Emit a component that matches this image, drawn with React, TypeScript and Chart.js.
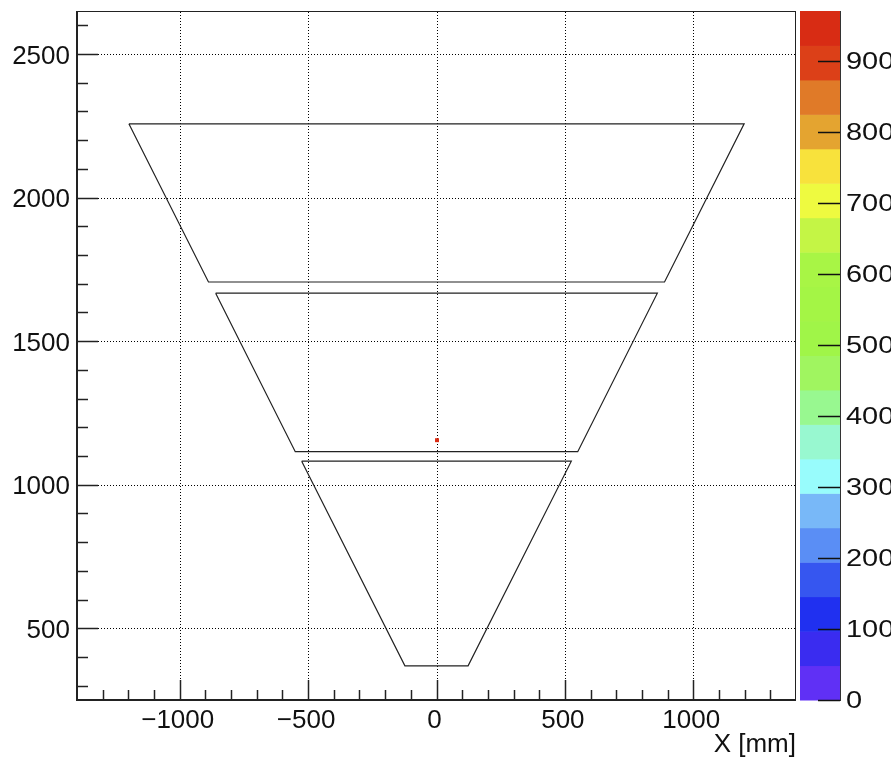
import { useEffect, useRef } from 'react';
import { Chart, registerables } from 'chart.js';

Chart.register(...registerables);

// Axis ranges and tick labels
const xMin = -1400;
const xMax = 1400;
const yMin = 250;
const yMax = 2650;
const xMajorTicks = [-1000, -500, 0, 500, 1000];
const yMajorTicks = [500, 1000, 1500, 2000, 2500];
const xMinorTicks = [-1300, -1200, -1100, -900, -800, -700, -600, -400, -300, -200, -100, 100, 200, 300, 400, 600, 700, 800, 900, 1100, 1200, 1300];
const yMinorTicks = [300, 400, 600, 700, 800, 900, 1100, 1200, 1300, 1400, 1600, 1700, 1800, 1900, 2100, 2200, 2300, 2400, 2600];
const xTitle = 'X [mm]';

// Trapezoid outlines (mm)
const trapTopY = [2257, 1667, 1082];
const trapBottomY = [1706, 1115, 369];
const trapTopHalfWidth = [1198, 860, 525];
const trapBottomHalfWidth = [888, 550, 123];

// Filled histogram cells
const cellX = [2];
const cellY = [1155];
const cellZ = [970];

// Colour palette (20 contours, bottom to top)
const zMax = 970;
const zTicks = [0, 100, 200, 300, 400, 500, 600, 700, 800, 900];
const paletteColors = [
  '#6030f5', '#3a2cf0', '#2030f0', '#3656f0', '#5a8ef5',
  '#78b8f8', '#98fcfc', '#98f8d0', '#98f890', '#a0f560',
  '#a0f548', '#a4f545', '#a8f545', '#c4f545', '#eefa40',
  '#f8e23c', '#e4a430', '#e07a28', '#dc4018', '#d82c14',
];

const FONT = '"Liberation Sans", Arial, Helvetica, sans-serif';

function colorFor(z: number) {
  const n = paletteColors.length;
  const idx = Math.max(0, Math.min(n - 1, Math.floor((z / zMax) * n)));
  return paletteColors[idx];
}

function fmt(v: number) {
  return v < 0 ? '\u2212' + Math.abs(v) : String(v);
}

const rootPlugin = {
  id: 'rootPlugin',
  beforeDatasetsDraw(chart: any) {
    const { ctx, chartArea: a, scales } = chart;
    const x = scales.x;
    const y = scales.y;
    ctx.save();
    ctx.strokeStyle = '#000';
    ctx.lineWidth = 1;
    ctx.setLineDash([1, 2]);
    xMajorTicks.forEach((v) => {
      const px = Math.round(x.getPixelForValue(v)) + 0.5;
      ctx.beginPath();
      ctx.moveTo(px, a.bottom);
      ctx.lineTo(px, a.top);
      ctx.stroke();
    });
    yMajorTicks.forEach((v) => {
      const py = Math.round(y.getPixelForValue(v)) + 0.5;
      ctx.beginPath();
      ctx.moveTo(a.left, py);
      ctx.lineTo(a.right, py);
      ctx.stroke();
    });
    ctx.restore();
  },
  afterDatasetsDraw(chart: any) {
    const { ctx, chartArea: a, scales } = chart;
    const x = scales.x;
    const y = scales.y;
    const z = scales.z;
    ctx.save();
    ctx.setLineDash([]);

    // frame
    ctx.strokeStyle = '#222';
    ctx.lineWidth = 1;
    ctx.strokeRect(a.left + 0.5, a.top + 0.5, a.right - a.left - 1, a.bottom - a.top);
    ctx.lineWidth = 2;
    ctx.beginPath();
    ctx.moveTo(a.left, a.top);
    ctx.lineTo(a.left, a.bottom);
    ctx.lineTo(a.right, a.bottom);
    ctx.stroke();

    // ticks
    ctx.lineWidth = 1.5;
    ctx.strokeStyle = '#222';
    const drawXT = (v: number, len: number) => {
      const px = Math.round(x.getPixelForValue(v)) + 0.5;
      ctx.beginPath();
      ctx.moveTo(px, a.bottom);
      ctx.lineTo(px, a.bottom - len);
      ctx.stroke();
    };
    const drawYT = (v: number, len: number) => {
      const py = Math.round(y.getPixelForValue(v)) + 0.5;
      ctx.beginPath();
      ctx.moveTo(a.left, py);
      ctx.lineTo(a.left + len, py);
      ctx.stroke();
    };
    xMajorTicks.forEach((v) => drawXT(v, 20));
    xMinorTicks.forEach((v) => drawXT(v, 10));
    yMajorTicks.forEach((v) => drawYT(v, 21));
    yMinorTicks.forEach((v) => drawYT(v, 11));

    // labels
    ctx.fillStyle = '#111';
    ctx.font = '26px ' + FONT;
    ctx.textBaseline = 'alphabetic';
    ctx.textAlign = 'center';
    xMajorTicks.forEach((v) => {
      ctx.fillText(fmt(v), x.getPixelForValue(v) - 2, 728);
    });
    ctx.textAlign = 'right';
    yMajorTicks.forEach((v) => {
      ctx.fillText(fmt(v), a.left - 7, y.getPixelForValue(v) + 9.5);
    });
    ctx.fillText(xTitle, a.right, 752);

    // colour bar
    const bl = z.left + 4;
    const br = z.left + 44;
    const n = paletteColors.length;
    for (let i = 0; i < n; i++) {
      const y0 = z.getPixelForValue((i * zMax) / n);
      const y1 = z.getPixelForValue(((i + 1) * zMax) / n);
      ctx.fillStyle = paletteColors[i];
      ctx.fillRect(bl, Math.min(y0, y1), br - bl, Math.abs(y1 - y0) + 0.5);
    }
    ctx.strokeStyle = '#333';
    ctx.lineWidth = 1;
    ctx.beginPath();
    ctx.moveTo(br + 0.5, z.top);
    ctx.lineTo(br + 0.5, z.bottom + 1);
    ctx.stroke();
    ctx.lineWidth = 1.5;
    ctx.strokeStyle = '#111';
    ctx.fillStyle = '#111';
    ctx.font = '23px ' + FONT;
    ctx.textAlign = 'left';
    zTicks.forEach((v) => {
      const py = Math.round(z.getPixelForValue(v)) + 0.5;
      ctx.beginPath();
      ctx.moveTo(br, py);
      ctx.lineTo(br - 22, py);
      ctx.stroke();
      ctx.save();
      ctx.translate(br + 6, py + 7.5);
      ctx.scale(1.26, 1);
      ctx.fillText(String(v), 0, 0);
      ctx.restore();
    });
    ctx.restore();
  },
};

export default function App() {
  const ref = useRef<HTMLCanvasElement | null>(null);
  useEffect(() => {
    document.body.style.margin = '0';
    document.body.style.background = '#fff';
    const canvas = ref.current;
    if (!canvas) return;
    const trapSets = trapTopY.map((ty, i) => {
      const by = trapBottomY[i];
      const tw = trapTopHalfWidth[i];
      const bw = trapBottomHalfWidth[i];
      return {
        type: 'line' as const,
        data: [
          { x: -tw, y: ty },
          { x: tw, y: ty },
          { x: bw, y: by },
          { x: -bw, y: by },
          { x: -tw, y: ty },
        ],
        borderColor: '#222',
        borderWidth: 1.2,
        pointRadius: 0,
        fill: false,
        tension: 0,
        showLine: true,
      };
    });
    const cells = {
      type: 'scatter' as const,
      data: cellX.map((cx, i) => ({ x: cx, y: cellY[i] })),
      pointStyle: 'rect',
      pointRadius: 2.8,
      borderWidth: 0,
      backgroundColor: cellZ.map((v) => colorFor(v)),
      borderColor: cellZ.map((v) => colorFor(v)),
    };
    const hidden = {
      grid: { display: false },
      border: { display: false },
      ticks: { display: false },
    };
    const chart = new Chart(canvas, {
      type: 'scatter',
      data: { datasets: [...trapSets, cells] as any },
      options: {
        animation: false,
        responsive: false,
        layout: { padding: { top: 11, left: 0, right: 0, bottom: 0 } },
        plugins: { legend: { display: false }, tooltip: { enabled: false } },
        scales: {
          x: {
            type: 'linear',
            position: 'bottom',
            min: xMin,
            max: xMax,
            ...hidden,
            afterFit: (s: any) => {
              s.height = 62;
            },
          },
          y: {
            type: 'linear',
            position: 'left',
            min: yMin,
            max: yMax,
            ...hidden,
            afterFit: (s: any) => {
              s.width = 77;
            },
          },
          z: {
            type: 'linear',
            position: 'right',
            min: 0,
            max: zMax,
            ...hidden,
            afterFit: (s: any) => {
              s.width = 95;
            },
          },
        },
      } as any,
      plugins: [rootPlugin],
    });
    return () => chart.destroy();
  }, []);
  return (
    <div style={{ width: 891, height: 762, background: '#fff' }}>
      <canvas ref={ref} width={891} height={762} style={{ display: 'block' }} />
    </div>
  );
}
